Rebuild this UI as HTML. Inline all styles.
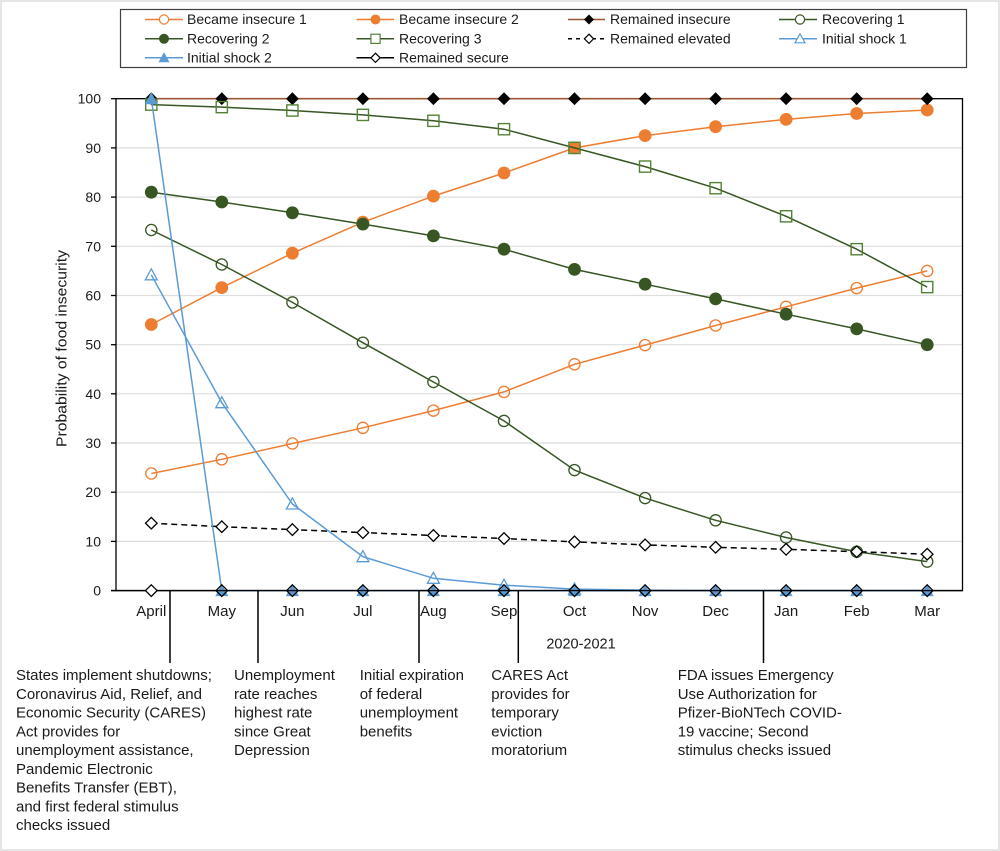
<!DOCTYPE html>
<html>
<head>
<meta charset="utf-8">
<style>
  html,body{margin:0;padding:0;background:#fff;}
  svg{display:block;}
  text{font-family:"Liberation Sans",Arial,sans-serif;fill:#1a1a1a;}
</style>
</head>
<body>
<svg width="1000" height="851" viewBox="0 0 1000 851" xmlns="http://www.w3.org/2000/svg">
  <defs>
    <circle id="oco" r="5.6" fill="none" stroke="#ED7D31" stroke-width="1.3"/>
    <circle id="ocf" r="6.4" fill="#ED7D31"/>
    <circle id="gco" r="5.6" fill="none" stroke="#375623" stroke-width="1.3"/>
    <circle id="gcf" r="6.4" fill="#375623"/>
    <rect id="gsq" x="-5.6" y="-5.6" width="11.2" height="11.2" fill="none" stroke="#548235" stroke-width="1.4"/>
    <path id="kdf" d="M0,-6.4 L6.4,0 L0,6.4 L-6.4,0 Z" fill="#000"/>
    <path id="kdo" d="M0,-5.8 L5.8,0 L0,5.8 L-5.8,0 Z" fill="none" stroke="#000" stroke-width="1.3"/>
    <path id="kdw" d="M0,-5.8 L5.8,0 L0,5.8 L-5.8,0 Z" fill="#fff" stroke="#000" stroke-width="1.3"/>
    <path id="bto" d="M0,-6 L6,5 L-6,5 Z" fill="none" stroke="#5B9BD5" stroke-width="1.3"/>
    <path id="btf" d="M0,-6.5 L6.5,5.5 L-6.5,5.5 Z" fill="#5B9BD5"/>
    <!-- legend small markers -->
    <circle id="l_oco" r="4.6" fill="#fff" stroke="#ED7D31" stroke-width="1.2"/>
    <circle id="l_ocf" r="5" fill="#ED7D31"/>
    <circle id="l_gco" r="4.6" fill="#fff" stroke="#375623" stroke-width="1.2"/>
    <circle id="l_gcf" r="5" fill="#375623"/>
    <rect id="l_gsq" x="-4.6" y="-4.6" width="9.2" height="9.2" fill="#fff" stroke="#548235" stroke-width="1.2"/>
    <path id="l_kdf" d="M0,-5 L5,0 L0,5 L-5,0 Z" fill="#000"/>
    <path id="l_kdw" d="M0,-4.6 L4.6,0 L0,4.6 L-4.6,0 Z" fill="#fff" stroke="#000" stroke-width="1.2"/>
    <path id="l_bto" d="M0,-5 L5,4 L-5,4 Z" fill="#fff" stroke="#5B9BD5" stroke-width="1.2"/>
    <path id="l_btf" d="M0,-5.5 L5.5,4.5 L-5.5,4.5 Z" fill="#5B9BD5"/>
  </defs>

  <!-- outer frame -->
  <rect x="0" y="0" width="1000" height="851" fill="#fff"/>
  <rect x="1" y="1" width="998" height="849" fill="none" stroke="#e6e6e6" stroke-width="2"/>

  <!-- legend -->
  <rect x="120.5" y="9.5" width="846" height="58" fill="#fff" stroke="#404040" stroke-width="1.2"/>
  <g font-size="14">
    <!-- row 1 -->
    <line x1="145" y1="19.5" x2="183" y2="19.5" stroke="#ED7D31" stroke-width="1.5"/>
    <use href="#l_oco" x="164" y="19.5"/>
    <text x="187" y="24">Became insecure 1</text>
    <line x1="356.5" y1="19.5" x2="394" y2="19.5" stroke="#ED7D31" stroke-width="1.5"/>
    <use href="#l_ocf" x="375.5" y="19.5"/>
    <text x="399" y="24">Became insecure 2</text>
    <line x1="568" y1="19.5" x2="605" y2="19.5" stroke="#9E5532" stroke-width="1.5"/>
    <use href="#l_kdf" x="589" y="19.5"/>
    <text x="610" y="24">Remained insecure</text>
    <line x1="779" y1="19.5" x2="817" y2="19.5" stroke="#375623" stroke-width="1.5"/>
    <use href="#l_gco" x="800" y="19.5"/>
    <text x="822" y="24">Recovering 1</text>
    <!-- row 2 -->
    <line x1="145" y1="38.8" x2="183" y2="38.8" stroke="#375623" stroke-width="1.5"/>
    <use href="#l_gcf" x="164" y="38.8"/>
    <text x="187" y="43.3">Recovering 2</text>
    <line x1="356.5" y1="38.8" x2="394" y2="38.8" stroke="#375623" stroke-width="1.5"/>
    <use href="#l_gsq" x="375.5" y="38.8"/>
    <text x="399" y="43.3">Recovering 3</text>
    <line x1="568" y1="38.8" x2="605" y2="38.8" stroke="#000" stroke-width="1.5" stroke-dasharray="4,4"/>
    <use href="#l_kdw" x="589" y="38.8"/>
    <text x="610" y="43.3">Remained elevated</text>
    <line x1="779" y1="38.8" x2="817" y2="38.8" stroke="#5B9BD5" stroke-width="1.5"/>
    <use href="#l_bto" x="800" y="38.8"/>
    <text x="822" y="43.3">Initial shock 1</text>
    <!-- row 3 -->
    <line x1="145" y1="57.8" x2="183" y2="57.8" stroke="#5B9BD5" stroke-width="1.5"/>
    <use href="#l_btf" x="164" y="57.8"/>
    <text x="187" y="62.3">Initial shock 2</text>
    <line x1="356.5" y1="57.8" x2="394" y2="57.8" stroke="#000" stroke-width="1.5"/>
    <use href="#l_kdw" x="375.5" y="57.8"/>
    <text x="399" y="62.3">Remained secure</text>
  </g>

  <!-- gridlines -->
  <g stroke="#dedede" stroke-width="1.2">
    <line x1="116" y1="541.4" x2="962.5" y2="541.4"/>
    <line x1="116" y1="492.2" x2="962.5" y2="492.2"/>
    <line x1="116" y1="443.0" x2="962.5" y2="443.0"/>
    <line x1="116" y1="393.8" x2="962.5" y2="393.8"/>
    <line x1="116" y1="344.7" x2="962.5" y2="344.7"/>
    <line x1="116" y1="295.5" x2="962.5" y2="295.5"/>
    <line x1="116" y1="246.3" x2="962.5" y2="246.3"/>
    <line x1="116" y1="197.1" x2="962.5" y2="197.1"/>
    <line x1="116" y1="147.9" x2="962.5" y2="147.9"/>
  </g>

  <!-- plot border / axes -->
  <rect x="116" y="98.7" width="846.5" height="491.9" fill="none" stroke="#000" stroke-width="1.3"/>
  <g stroke="#000" stroke-width="1.3">
    <line x1="111" y1="590.6" x2="116" y2="590.6"/>
    <line x1="111" y1="541.4" x2="116" y2="541.4"/>
    <line x1="111" y1="492.2" x2="116" y2="492.2"/>
    <line x1="111" y1="443.0" x2="116" y2="443.0"/>
    <line x1="111" y1="393.8" x2="116" y2="393.8"/>
    <line x1="111" y1="344.7" x2="116" y2="344.7"/>
    <line x1="111" y1="295.5" x2="116" y2="295.5"/>
    <line x1="111" y1="246.3" x2="116" y2="246.3"/>
    <line x1="111" y1="197.1" x2="116" y2="197.1"/>
    <line x1="111" y1="147.9" x2="116" y2="147.9"/>
    <line x1="111" y1="98.7" x2="116" y2="98.7"/>
  </g>

  <!-- y tick labels -->
  <g font-size="14" text-anchor="end">
    <text x="101" y="595.6">0</text>
    <text x="101" y="546.4">10</text>
    <text x="101" y="497.2">20</text>
    <text x="101" y="448">30</text>
    <text x="101" y="398.8">40</text>
    <text x="101" y="349.7">50</text>
    <text x="101" y="300.5">60</text>
    <text x="101" y="251.3">70</text>
    <text x="101" y="202.1">80</text>
    <text x="101" y="152.9">90</text>
    <text x="101" y="103.7">100</text>
  </g>

  <!-- y axis title -->
  <text transform="translate(66.5,348.5) rotate(-90)" text-anchor="middle" font-size="14.5" textLength="197" lengthAdjust="spacingAndGlyphs">Probability of food insecurity</text>

  <!-- Series: Became insecure 1 -->
  <polyline fill="none" stroke="#ED7D31" stroke-width="1.5" points="151.3,473.5 221.8,459.3 292.4,443.5 362.9,427.8 433.4,410.6 504.0,391.9 574.5,364.3 645.1,345.1 715.6,325.5 786.1,306.8 856.7,288.1 927.2,270.9"/>
  <g>
    <use href="#oco" x="151.3" y="473.5"/><use href="#oco" x="221.8" y="459.3"/><use href="#oco" x="292.4" y="443.5"/><use href="#oco" x="362.9" y="427.8"/><use href="#oco" x="433.4" y="410.6"/><use href="#oco" x="504.0" y="391.9"/><use href="#oco" x="574.5" y="364.3"/><use href="#oco" x="645.1" y="345.1"/><use href="#oco" x="715.6" y="325.5"/><use href="#oco" x="786.1" y="306.8"/><use href="#oco" x="856.7" y="288.1"/><use href="#oco" x="927.2" y="270.9"/>
  </g>

  <!-- Became insecure 2 -->
  <polyline fill="none" stroke="#ED7D31" stroke-width="1.5" points="151.3,324.5 221.8,287.6 292.4,253.2 362.9,222.2 433.4,196.1 504.0,173.0 574.5,147.9 645.1,135.6 715.6,126.7 786.1,119.4 856.7,113.5 927.2,110.0"/>
  <g>
    <use href="#ocf" x="151.3" y="324.5"/><use href="#ocf" x="221.8" y="287.6"/><use href="#ocf" x="292.4" y="253.2"/><use href="#ocf" x="362.9" y="222.2"/><use href="#ocf" x="433.4" y="196.1"/><use href="#ocf" x="504.0" y="173.0"/><use href="#ocf" x="574.5" y="147.9"/><use href="#ocf" x="645.1" y="135.6"/><use href="#ocf" x="715.6" y="126.7"/><use href="#ocf" x="786.1" y="119.4"/><use href="#ocf" x="856.7" y="113.5"/><use href="#ocf" x="927.2" y="110.0"/>
  </g>

  <!-- Remained insecure -->
  <line x1="151.3" y1="98.7" x2="927.2" y2="98.7" stroke="#9E5532" stroke-width="1.6"/>
  <g>
    <use href="#kdf" x="151.3" y="98.7"/><use href="#kdf" x="221.8" y="98.7"/><use href="#kdf" x="292.4" y="98.7"/><use href="#kdf" x="362.9" y="98.7"/><use href="#kdf" x="433.4" y="98.7"/><use href="#kdf" x="504.0" y="98.7"/><use href="#kdf" x="574.5" y="98.7"/><use href="#kdf" x="645.1" y="98.7"/><use href="#kdf" x="715.6" y="98.7"/><use href="#kdf" x="786.1" y="98.7"/><use href="#kdf" x="856.7" y="98.7"/><use href="#kdf" x="927.2" y="98.7"/>
  </g>

  <!-- Recovering 1 -->
  <polyline fill="none" stroke="#375623" stroke-width="1.5" points="151.3,230.0 221.8,264.5 292.4,302.4 362.9,342.7 433.4,382.0 504.0,420.9 574.5,470.1 645.1,498.1 715.6,520.3 786.1,537.5 856.7,551.7 927.2,561.6"/>
  <g>
    <use href="#gco" x="151.3" y="230.0"/><use href="#gco" x="221.8" y="264.5"/><use href="#gco" x="292.4" y="302.4"/><use href="#gco" x="362.9" y="342.7"/><use href="#gco" x="433.4" y="382.0"/><use href="#gco" x="504.0" y="420.9"/><use href="#gco" x="574.5" y="470.1"/><use href="#gco" x="645.1" y="498.1"/><use href="#gco" x="715.6" y="520.3"/><use href="#gco" x="786.1" y="537.5"/><use href="#gco" x="856.7" y="551.7"/><use href="#gco" x="927.2" y="561.6"/>
  </g>

  <!-- Recovering 2 -->
  <polyline fill="none" stroke="#375623" stroke-width="1.5" points="151.3,192.2 221.8,202.0 292.4,212.8 362.9,224.1 433.4,235.9 504.0,249.2 574.5,269.4 645.1,284.2 715.6,298.9 786.1,314.2 856.7,328.9 927.2,344.7"/>
  <g>
    <use href="#gcf" x="151.3" y="192.2"/><use href="#gcf" x="221.8" y="202.0"/><use href="#gcf" x="292.4" y="212.8"/><use href="#gcf" x="362.9" y="224.1"/><use href="#gcf" x="433.4" y="235.9"/><use href="#gcf" x="504.0" y="249.2"/><use href="#gcf" x="574.5" y="269.4"/><use href="#gcf" x="645.1" y="284.2"/><use href="#gcf" x="715.6" y="298.9"/><use href="#gcf" x="786.1" y="314.2"/><use href="#gcf" x="856.7" y="328.9"/><use href="#gcf" x="927.2" y="344.7"/>
  </g>

  <!-- Recovering 3 -->
  <polyline fill="none" stroke="#375623" stroke-width="1.5" points="151.3,104.6 221.8,107.1 292.4,110.5 362.9,114.9 433.4,120.8 504.0,129.2 574.5,147.9 645.1,166.6 715.6,188.2 786.1,216.3 856.7,249.2 927.2,287.1"/>
  <g>
    <use href="#gsq" x="151.3" y="104.6"/><use href="#gsq" x="221.8" y="107.1"/><use href="#gsq" x="292.4" y="110.5"/><use href="#gsq" x="362.9" y="114.9"/><use href="#gsq" x="433.4" y="120.8"/><use href="#gsq" x="504.0" y="129.2"/><use href="#gsq" x="574.5" y="147.9"/><use href="#gsq" x="645.1" y="166.6"/><use href="#gsq" x="715.6" y="188.2"/><use href="#gsq" x="786.1" y="216.3"/><use href="#gsq" x="856.7" y="249.2"/><use href="#gsq" x="927.2" y="287.1"/>
  </g>

  <!-- Remained elevated -->
  <polyline fill="none" stroke="#000" stroke-width="1.5" stroke-dasharray="6,4" points="151.3,523.2 221.8,526.7 292.4,529.6 362.9,532.6 433.4,535.5 504.0,538.5 574.5,541.9 645.1,544.9 715.6,547.3 786.1,549.3 856.7,551.7 927.2,554.2"/>
  <g>
    <use href="#kdw" x="151.3" y="523.2"/><use href="#kdw" x="221.8" y="526.7"/><use href="#kdw" x="292.4" y="529.6"/><use href="#kdw" x="362.9" y="532.6"/><use href="#kdw" x="433.4" y="535.5"/><use href="#kdw" x="504.0" y="538.5"/><use href="#kdw" x="574.5" y="541.9"/><use href="#kdw" x="645.1" y="544.9"/><use href="#kdw" x="715.6" y="547.3"/><use href="#kdw" x="786.1" y="549.3"/><use href="#kdw" x="856.7" y="551.7"/><use href="#kdw" x="927.2" y="554.2"/>
  </g>

  <!-- Initial shock 1 -->
  <polyline fill="none" stroke="#5B9BD5" stroke-width="1.5" points="151.3,274.8 221.8,402.7 292.4,504.0 362.9,556.7 433.4,578.3 504.0,585.2 574.5,589.1 645.1,590.1 715.6,590.6 786.1,590.6 856.7,590.6 927.2,590.6"/>
  <g>
    <use href="#bto" x="151.3" y="274.8"/><use href="#bto" x="221.8" y="402.7"/><use href="#bto" x="292.4" y="504.0"/><use href="#bto" x="362.9" y="556.7"/><use href="#bto" x="433.4" y="578.3"/><use href="#bto" x="504.0" y="585.2"/><use href="#bto" x="574.5" y="589.1"/>
  </g>

  <!-- Initial shock 2 -->
  <polyline fill="none" stroke="#5B9BD5" stroke-width="1.5" points="151.3,98.7 221.8,590.6 927.2,590.6"/>
  <g>
    <use href="#btf" x="151.3" y="98.7"/><use href="#btf" x="221.8" y="590.6"/><use href="#btf" x="292.4" y="590.6"/><use href="#btf" x="362.9" y="590.6"/><use href="#btf" x="433.4" y="590.6"/><use href="#btf" x="504.0" y="590.6"/><use href="#btf" x="574.5" y="590.6"/><use href="#btf" x="645.1" y="590.6"/><use href="#btf" x="715.6" y="590.6"/><use href="#btf" x="786.1" y="590.6"/><use href="#btf" x="856.7" y="590.6"/><use href="#btf" x="927.2" y="590.6"/>
  </g>

  <!-- x axis line redrawn -->
  <line x1="111" y1="590.6" x2="962.5" y2="590.6" stroke="#000" stroke-width="1.4"/>

  <!-- Remained secure -->
  <g>
    <use href="#kdw" x="151.3" y="590.6"/><use href="#kdo" x="221.8" y="590.6"/><use href="#kdo" x="292.4" y="590.6"/><use href="#kdo" x="362.9" y="590.6"/><use href="#kdo" x="433.4" y="590.6"/><use href="#kdo" x="504.0" y="590.6"/><use href="#kdo" x="574.5" y="590.6"/><use href="#kdo" x="645.1" y="590.6"/><use href="#kdo" x="715.6" y="590.6"/><use href="#kdo" x="786.1" y="590.6"/><use href="#kdo" x="856.7" y="590.6"/><use href="#kdo" x="927.2" y="590.6"/>
  </g>

  <!-- callout lines -->
  <g stroke="#000" stroke-width="1.5">
    <line x1="170" y1="590.6" x2="170" y2="663"/>
    <line x1="258" y1="590.6" x2="258" y2="663"/>
    <line x1="419" y1="590.6" x2="419" y2="663"/>
    <line x1="518.3" y1="590.6" x2="518.3" y2="663"/>
    <line x1="763.5" y1="590.6" x2="763.5" y2="663"/>
  </g>

  <!-- month labels -->
  <g font-size="15" text-anchor="middle">
    <text x="151.3" y="616">April</text>
    <text x="221.8" y="616">May</text>
    <text x="292.4" y="616">Jun</text>
    <text x="362.9" y="616">Jul</text>
    <text x="433.4" y="616">Aug</text>
    <text x="504.0" y="616">Sep</text>
    <text x="574.5" y="616">Oct</text>
    <text x="645.1" y="616">Nov</text>
    <text x="715.6" y="616">Dec</text>
    <text x="786.1" y="616">Jan</text>
    <text x="856.7" y="616">Feb</text>
    <text x="927.2" y="616">Mar</text>
  </g>
  <text x="581" y="648.5" font-size="14.5" text-anchor="middle">2020-2021</text>

  <!-- annotations -->
  <g font-size="15">
    <text x="16" y="680">
      <tspan x="16" y="680">States implement shutdowns;</tspan>
      <tspan x="16" y="698.75">Coronavirus Aid, Relief, and</tspan>
      <tspan x="16" y="717.5">Economic Security (CARES)</tspan>
      <tspan x="16" y="736.25">Act provides for</tspan>
      <tspan x="16" y="755">unemployment assistance,</tspan>
      <tspan x="16" y="773.75">Pandemic Electronic</tspan>
      <tspan x="16" y="792.5">Benefits Transfer (EBT),</tspan>
      <tspan x="16" y="811.25">and first federal stimulus</tspan>
      <tspan x="16" y="830">checks issued</tspan>
    </text>
    <text x="234" y="680">
      <tspan x="234" y="680">Unemployment</tspan>
      <tspan x="234" y="698.75">rate reaches</tspan>
      <tspan x="234" y="717.5">highest rate</tspan>
      <tspan x="234" y="736.25">since Great</tspan>
      <tspan x="234" y="755">Depression</tspan>
    </text>
    <text x="359.7" y="680">
      <tspan x="359.7" y="680">Initial expiration</tspan>
      <tspan x="359.7" y="698.75">of federal</tspan>
      <tspan x="359.7" y="717.5">unemployment</tspan>
      <tspan x="359.7" y="736.25">benefits</tspan>
    </text>
    <text x="491.3" y="680">
      <tspan x="491.3" y="680">CARES Act</tspan>
      <tspan x="491.3" y="698.75">provides for</tspan>
      <tspan x="491.3" y="717.5">temporary</tspan>
      <tspan x="491.3" y="736.25">eviction</tspan>
      <tspan x="491.3" y="755">moratorium</tspan>
    </text>
    <text x="677.7" y="680">
      <tspan x="677.7" y="680">FDA issues Emergency</tspan>
      <tspan x="677.7" y="698.75">Use Authorization for</tspan>
      <tspan x="677.7" y="717.5">Pfizer-BioNTech COVID-</tspan>
      <tspan x="677.7" y="736.25">19 vaccine; Second</tspan>
      <tspan x="677.7" y="755">stimulus checks issued</tspan>
    </text>
  </g>
</svg>
</body>
</html>
